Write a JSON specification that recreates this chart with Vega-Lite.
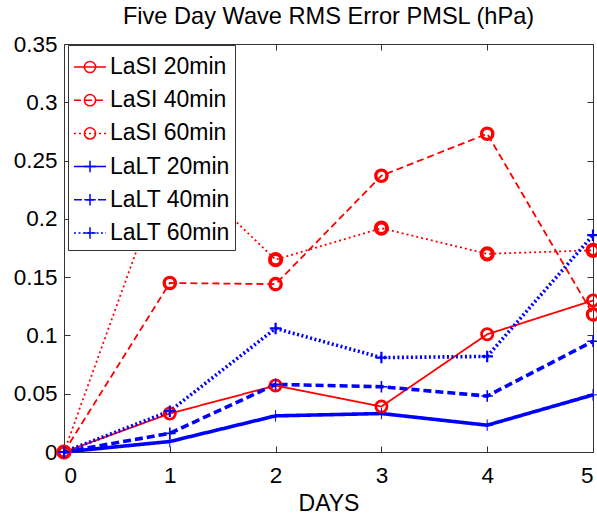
{
  "$schema": "https://vega.github.io/schema/vega-lite/v6.json",
  "width": 529,
  "height": 408,
  "autosize": {"type": "none"},
  "padding": {"left": 64, "top": 44, "right": 4, "bottom": 62},
  "background": "white",
  "title": {"text": "Five Day Wave RMS Error PMSL (hPa)", "font": "Liberation Sans", "fontSize": 23.6, "fontWeight": "normal", "color": "black", "anchor": "middle", "offset": 4},
  "data": {"values": [
    {"series": "LaSI 20min", "day": 0, "value": 0},
    {"series": "LaSI 20min", "day": 1, "value": 0.033},
    {"series": "LaSI 20min", "day": 2, "value": 0.057},
    {"series": "LaSI 20min", "day": 3, "value": 0.039},
    {"series": "LaSI 20min", "day": 4, "value": 0.101},
    {"series": "LaSI 20min", "day": 5, "value": 0.130},
    {"series": "LaSI 40min", "day": 0, "value": 0},
    {"series": "LaSI 40min", "day": 1, "value": 0.145},
    {"series": "LaSI 40min", "day": 2, "value": 0.144},
    {"series": "LaSI 40min", "day": 3, "value": 0.237},
    {"series": "LaSI 40min", "day": 4, "value": 0.273},
    {"series": "LaSI 40min", "day": 5, "value": 0.118},
    {"series": "LaSI 60min", "day": 0, "value": 0},
    {"series": "LaSI 60min", "day": 1, "value": 0.252},
    {"series": "LaSI 60min", "day": 2, "value": 0.165},
    {"series": "LaSI 60min", "day": 3, "value": 0.192},
    {"series": "LaSI 60min", "day": 4, "value": 0.170},
    {"series": "LaSI 60min", "day": 5, "value": 0.173},
    {"series": "LaLT 20min", "day": 0, "value": 0},
    {"series": "LaLT 20min", "day": 1, "value": 0.009},
    {"series": "LaLT 20min", "day": 2, "value": 0.031},
    {"series": "LaLT 20min", "day": 3, "value": 0.033},
    {"series": "LaLT 20min", "day": 4, "value": 0.023},
    {"series": "LaLT 20min", "day": 5, "value": 0.049},
    {"series": "LaLT 40min", "day": 0, "value": 0},
    {"series": "LaLT 40min", "day": 1, "value": 0.016},
    {"series": "LaLT 40min", "day": 2, "value": 0.058},
    {"series": "LaLT 40min", "day": 3, "value": 0.056},
    {"series": "LaLT 40min", "day": 4, "value": 0.048},
    {"series": "LaLT 40min", "day": 5, "value": 0.095},
    {"series": "LaLT 60min", "day": 0, "value": 0},
    {"series": "LaLT 60min", "day": 1, "value": 0.035},
    {"series": "LaLT 60min", "day": 2, "value": 0.106},
    {"series": "LaLT 60min", "day": 3, "value": 0.081},
    {"series": "LaLT 60min", "day": 4, "value": 0.082},
    {"series": "LaLT 60min", "day": 5, "value": 0.186}
  ]},
  "layer": [
    {
      "mark": {"type": "line", "clip": false, "opacity": 1},
      "encoding": {
        "x": {"field": "day", "type": "quantitative", "scale": {"domain": [0, 5], "nice": false}, "axis": {"orient": "bottom", "values": [0, 1, 2, 3, 4, 5], "title": "DAYS", "labelPadding": 18, "titlePadding": 6}},
        "y": {"field": "value", "type": "quantitative", "scale": {"domain": [0, 0.35], "nice": false, "zero": true}, "axis": {"orient": "left", "values": [0, 0.05, 0.1, 0.15, 0.2, 0.25, 0.3, 0.35], "format": "~g", "title": null, "labelPadding": 13}},
        "color": {"field": "series", "type": "nominal", "scale": {"domain": ["LaSI 20min", "LaSI 40min", "LaSI 60min", "LaLT 20min", "LaLT 40min", "LaLT 60min"], "range": ["#ff0000", "#ff0000", "#ff0000", "#0000ff", "#0000ff", "#0000ff"]},
          "legend": {"title": null, "orient": "none", "legendX": 4, "legendY": 1, "symbolType": "stroke", "symbolSize": 1024, "labelFont": "Liberation Sans", "labelFontSize": 23, "labelColor": "black", "strokeColor": "#333", "fillColor": "white", "padding": 5, "rowPadding": 4.2, "labelOffset": 3,
            "encode": {"symbols": {"strokeWidth": {"value": {"expr": "indexof(datum.value, 'LaSI') === 0 ? 1.8 : 3.6"}}, "opacity": {"value": 1}}}}},
        "strokeDash": {"field": "series", "type": "nominal", "scale": {"domain": ["LaSI 20min", "LaSI 40min", "LaSI 60min", "LaLT 20min", "LaLT 40min", "LaLT 60min"], "range": [[1, 0], [7, 4], [2, 3], [1, 0], [8, 4], [2, 2.5]]}},
        "strokeWidth": {"field": "series", "type": "nominal", "legend": null, "scale": {"type": "ordinal", "domain": ["LaSI 20min", "LaSI 40min", "LaSI 60min", "LaLT 20min", "LaLT 40min", "LaLT 60min"], "range": [1.8, 1.8, 1.8, 3.6, 3.6, 3.6]}}
      }
    },
    {
      "mark": {"type": "point", "filled": false, "size": 1024, "clip": false, "opacity": 1},
      "encoding": {
        "x": {"field": "day", "type": "quantitative", "axis": null},
        "y": {"field": "value", "type": "quantitative", "axis": null},
        "color": {"field": "series", "type": "nominal"},
        "strokeWidth": {"field": "series", "type": "nominal", "legend": null},
        "shape": {"field": "series", "type": "nominal", "sort": ["LaSI 20min", "LaSI 40min", "LaSI 60min", "LaLT 20min", "LaLT 40min", "LaLT 60min"],
          "scale": {"range": ["M0.35,0A0.35,0.35 0 1 1 -0.35,0A0.35,0.35 0 1 1 0.35,0Z", "M0.35,0A0.35,0.35 0 1 1 -0.35,0A0.35,0.35 0 1 1 0.35,0Z", "M0.35,0A0.35,0.35 0 1 1 -0.35,0A0.35,0.35 0 1 1 0.35,0Z", "M-0.36,0H0.36M0,-0.36V0.36", "M-0.36,0H0.36M0,-0.36V0.36", "M-0.36,0H0.36M0,-0.36V0.36"]},
          "legend": {"title": null, "orient": "none", "legendX": 4, "legendY": 1, "symbolSize": 1024, "labelFont": "Liberation Sans", "labelFontSize": 23, "labelExpr": "' '", "padding": 5, "rowPadding": 4.2, "labelOffset": 3,
            "symbolStrokeColor": {"expr": "indexof(datum.value, 'LaSI') === 0 ? '#ff0000' : '#0000ff'"},
            "encode": {"symbols": {"strokeWidth": {"value": {"expr": "indexof(datum.value, 'LaSI') === 0 ? 1.8 : 3.6"}}, "opacity": {"value": 1}}}}}
      }
    },
    {
      "mark": {"type": "point", "opacity": 0},
      "encoding": {
        "x": {"field": "day", "type": "quantitative", "axis": {"orient": "top", "values": [0, 1, 2, 3, 4, 5], "labels": false, "title": null}},
        "y": {"field": "value", "type": "quantitative", "axis": {"orient": "right", "values": [0, 0.05, 0.1, 0.15, 0.2, 0.25, 0.3, 0.35], "labels": false, "title": null}}
      }
    }
  ],
  "resolve": {"axis": {"x": "independent", "y": "independent"}},
  "config": {
    "view": {"stroke": null},
    "axis": {"grid": false, "domainColor": "#333", "tickColor": "#333", "tickSize": -6, "domainWidth": 1, "tickWidth": 1, "labelFont": "Liberation Sans", "labelFontSize": 22.5, "labelColor": "black", "titleFont": "Liberation Sans", "titleFontSize": 23, "titleFontWeight": "normal", "titleColor": "black"}
  }
}
